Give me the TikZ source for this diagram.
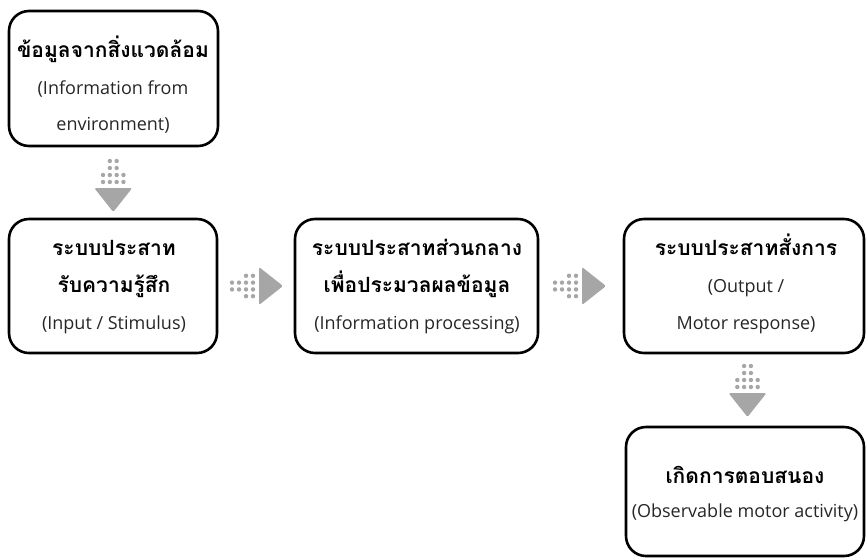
\documentclass[tikz,border=0pt]{standalone}
\usepackage{fontspec}
\setmainfont{Open Sans}
\newfontfamily\thaifont[Script=Thai]{Loma}
\usetikzlibrary{calc}
\definecolor{arrowgray}{RGB}{166,166,166}
\tikzset{
  box/.style={draw=black, line width=2.6pt, rounded corners=20pt, inner sep=0pt},
  th/.style={font=\thaifont\bfseries\fontsize{21}{24}\selectfont, anchor=base, inner sep=0pt},
  en/.style={font=\fontsize{18}{22}\selectfont, anchor=base, inner sep=0pt, text=black!85},
  dotarrow/.pic={
    \fill[arrowgray, rounded corners=1.5pt] (0,-19) -- (24,0) -- (0,19) -- cycle;
    \foreach \a in {-27,-20} \foreach \b in {-3.4,3.4} \fill[arrowgray] (\a,\b) circle (2.2);
    \foreach \a in {-13,-6} \foreach \b in {-10.2,-3.4,3.4,10.2} \fill[arrowgray] (\a,\b) circle (2.2);
  }
}
\begin{document}
\begin{tikzpicture}[x=1pt,y=-1pt]
\useasboundingbox (0,0) rectangle (866,558);
% boxes
\node[box, minimum width=209pt, minimum height=135pt] (b1) at (113.5,78.5) {};
\node[box, minimum width=208pt, minimum height=134pt] (b2) at (113,286) {};
\node[box, minimum width=243pt, minimum height=134pt] (b3) at (416.5,286) {};
\node[box, minimum width=240pt, minimum height=134pt] (b4) at (744,286) {};
\node[box, minimum width=238pt, minimum height=129pt] (b5) at (745,491.5) {};
% texts
\node[th] (b1t1) at (113,57) {ข้อมูลจากสิ่งแวดล้อม};
\node[en] (b1t2) at (113,94) {(Information from};
\node[en] (b1t3) at (113,130) {environment)};
\node[th] (b2t1) at (114,255) {ระบบประสาท};
\node[th] (b2t2) at (114,292) {รับความรู้สึก};
\node[en] (b2t3) at (114,329) {(Input / Stimulus)};
\node[th] (b3t1) at (417,255) {ระบบประสาทส่วนกลาง};
\node[th] (b3t2) at (417,292) {เพื่อประมวลผลข้อมูล};
\node[en] (b3t3) at (417,329) {(Information processing)};
\node[th] (b4t1) at (746,255) {ระบบประสาทสั่งการ};
\node[en] (b4t2) at (746,292) {(Output /};
\node[en] (b4t3) at (746,329) {Motor response)};
\node[th] (b5t1) at (745,483) {เกิดการตอบสนอง};
\node[en] (b5t2) at (745,517) {(Observable motor activity)};
% arrows
\pic[rotate=-90] at ($(b1.south)!0.5!(b2.north)+(0,5.5)$) {dotarrow};
\pic at ($(b2.east)!0.5!(b3.west)+(3,0)$) {dotarrow};
\pic at ($(b3.east)!0.5!(b4.west)+(1,0)$) {dotarrow};
\pic[rotate=-90] at ($(b4.south)!0.5!(b5.north)+(3,3)$) {dotarrow};
\end{tikzpicture}
\end{document}
